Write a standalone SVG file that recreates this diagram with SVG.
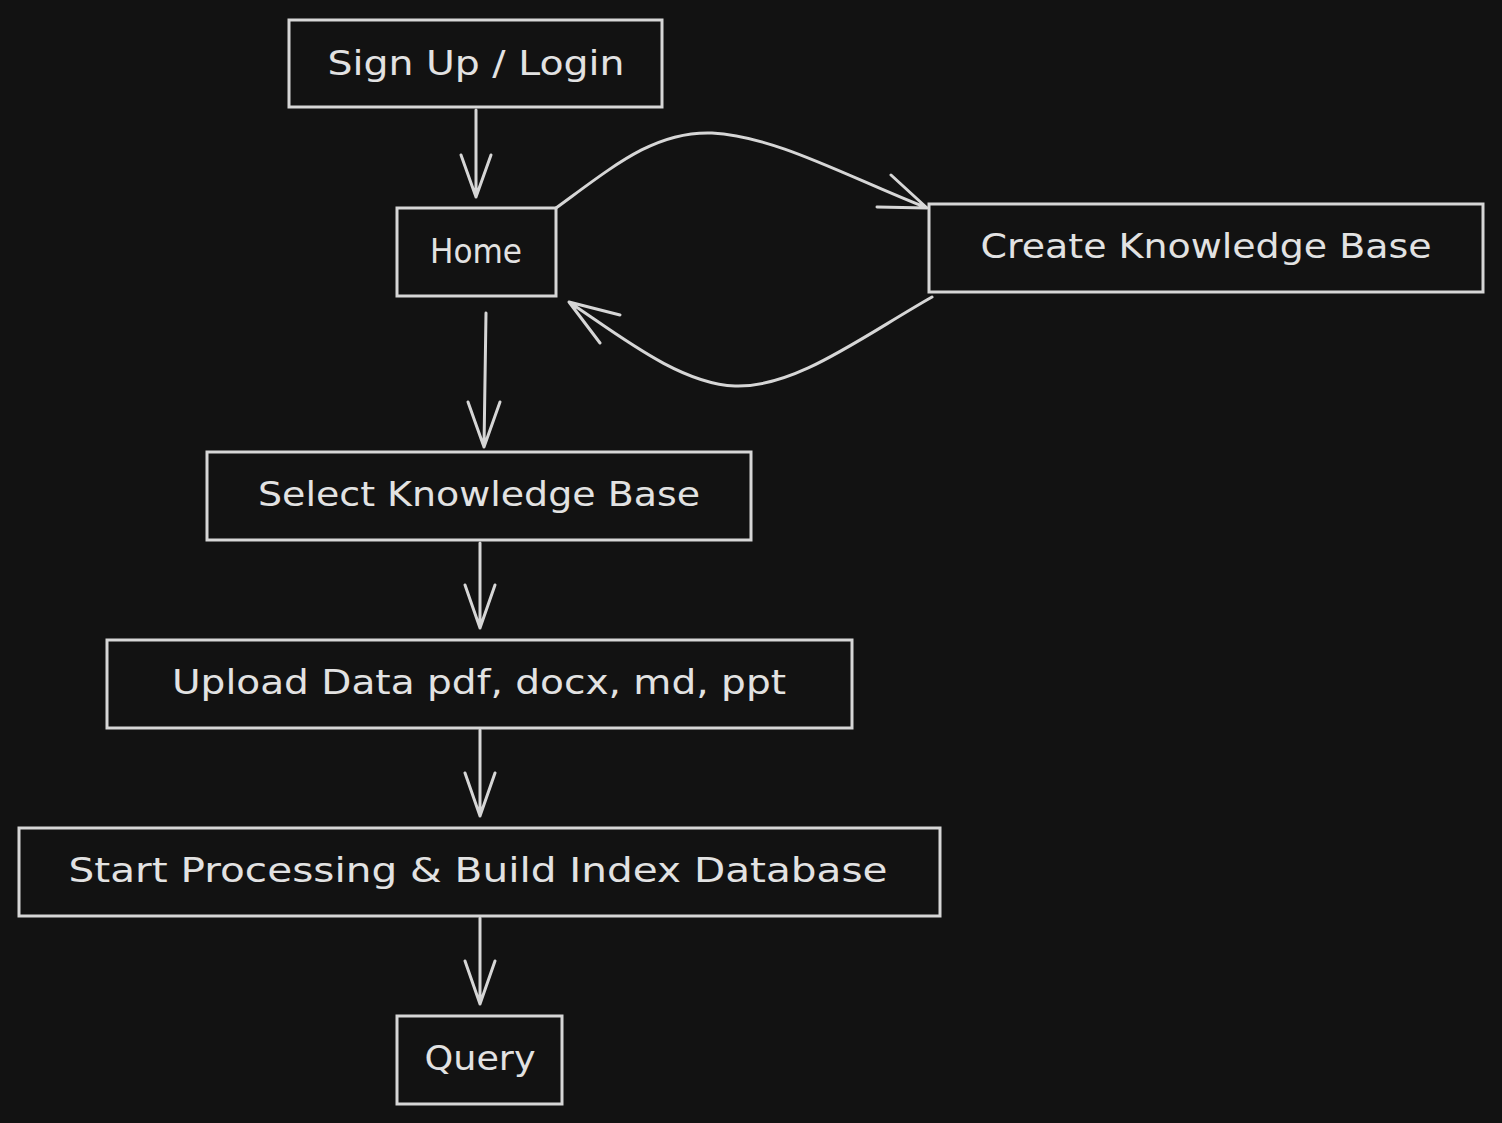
<svg xmlns="http://www.w3.org/2000/svg" width="1502" height="1123" viewBox="0 0 1502 1123">
<style>
.box{fill:none;stroke:#d6d6d6;stroke-width:3}
.lbl{font-family:"DejaVu Sans","Liberation Sans",sans-serif;font-size:33px;fill:#e2e2e2;text-anchor:middle;dominant-baseline:central}
.c{fill:none;stroke:#d6d6d6;stroke-width:3;stroke-linecap:round;stroke-linejoin:round}
</style>
<rect width="1502" height="1123" fill="#121212"/>
<g id="signup"><rect class="box" x="289" y="20" width="373" height="87"/><text class="lbl" x="476" y="63" textLength="297" lengthAdjust="spacingAndGlyphs">Sign Up / Login</text></g>
<g id="home"><rect class="box" x="397" y="208" width="159" height="88"/><text class="lbl" x="476" y="251" textLength="92" lengthAdjust="spacingAndGlyphs">Home</text></g>
<g id="create"><rect class="box" x="929" y="204" width="554" height="88"/><text class="lbl" x="1206" y="246" textLength="451" lengthAdjust="spacingAndGlyphs">Create Knowledge Base</text></g>
<g id="select"><rect class="box" x="207" y="452" width="544" height="88"/><text class="lbl" x="479" y="494" textLength="442" lengthAdjust="spacingAndGlyphs">Select Knowledge Base</text></g>
<g id="upload"><rect class="box" x="107" y="640" width="745" height="88"/><text class="lbl" x="479" y="682" textLength="614" lengthAdjust="spacingAndGlyphs">Upload Data pdf, docx, md, ppt</text></g>
<g id="process"><rect class="box" x="19" y="828" width="921" height="88"/><text class="lbl" x="478" y="870" textLength="819" lengthAdjust="spacingAndGlyphs">Start Processing &amp; Build Index Database</text></g>
<g id="query"><rect class="box" x="397" y="1016" width="165" height="88"/><text class="lbl" x="480" y="1058" textLength="111" lengthAdjust="spacingAndGlyphs">Query</text></g>
<g id="connectors">
<path class="c" d="M476,110 L476,197 M461,155 L476,197 L491,155"/>
<path class="c" d="M556,208 C615,165 655,131 712,133 C775,136 850,178 927,208 M891,175 L927,208 L877,207"/>
<path class="c" d="M932,297 C860,338 795,388 735,386 C680,384 620,336 569,302 M620,315 L569,302 L600,343"/>
<path class="c" d="M486,313 L484,447 M468,402 L484,447 L500,402"/>
<path class="c" d="M480,543 L480,628 M465,585 L480,628 L495,585"/>
<path class="c" d="M480,730 L480,816 M465,773 L480,816 L495,773"/>
<path class="c" d="M480,918 L480,1004 M465,961 L480,1004 L495,961"/>
</g>
</svg>
